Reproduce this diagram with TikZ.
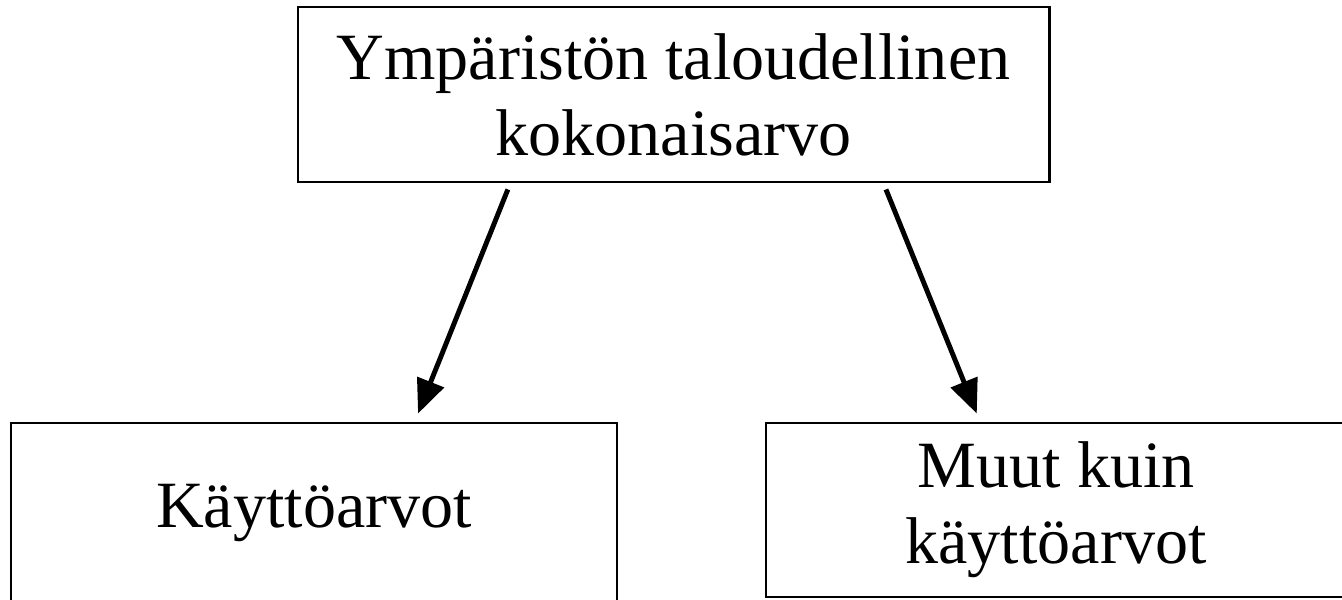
\documentclass[tikz,border=0pt]{standalone}
\usepackage{fontspec}
\setmainfont{Liberation Serif}
\usetikzlibrary{arrows.meta}

\tikzset{
    valuebox/.style={draw, line width=2pt, align=center, inner sep=0pt,
        font=\fontsize{47}{54}\selectfont},
    valuearrow/.style={line width=3.5pt, -{Triangle[length=0.85cm,width=0.7cm]}}
}

\begin{document}
\begin{tikzpicture}[x=0.025cm, y=-0.025cm]
        \useasboundingbox (0,0) rectangle (1342,599);
        \node[valuebox, minimum width=18.775cm, minimum height=4.375cm] (total) at (673.5,94.5)
            {Ympäristön taloudellinen\\kokonaisarvo};
        \node[valuebox, minimum width=15.15cm, minimum height=4.5cm] (use) at (314,513)
            {Käyttöarvot};
        \node[valuebox, minimum width=14.5cm, minimum height=4.35cm] (nonuse) at (1056,510)
            {Muut kuin\\käyttöarvot};
        \draw[valuearrow] ([xshift=-4.14cm, yshift=-0.15cm]total.south) -- ([xshift=2.6cm, yshift=0.2cm]use.north);
        \draw[valuearrow] ([xshift=5.31cm, yshift=-0.15cm]total.south) -- ([xshift=-1.98cm, yshift=0.2cm]nonuse.north);
\end{tikzpicture}
\end{document}
